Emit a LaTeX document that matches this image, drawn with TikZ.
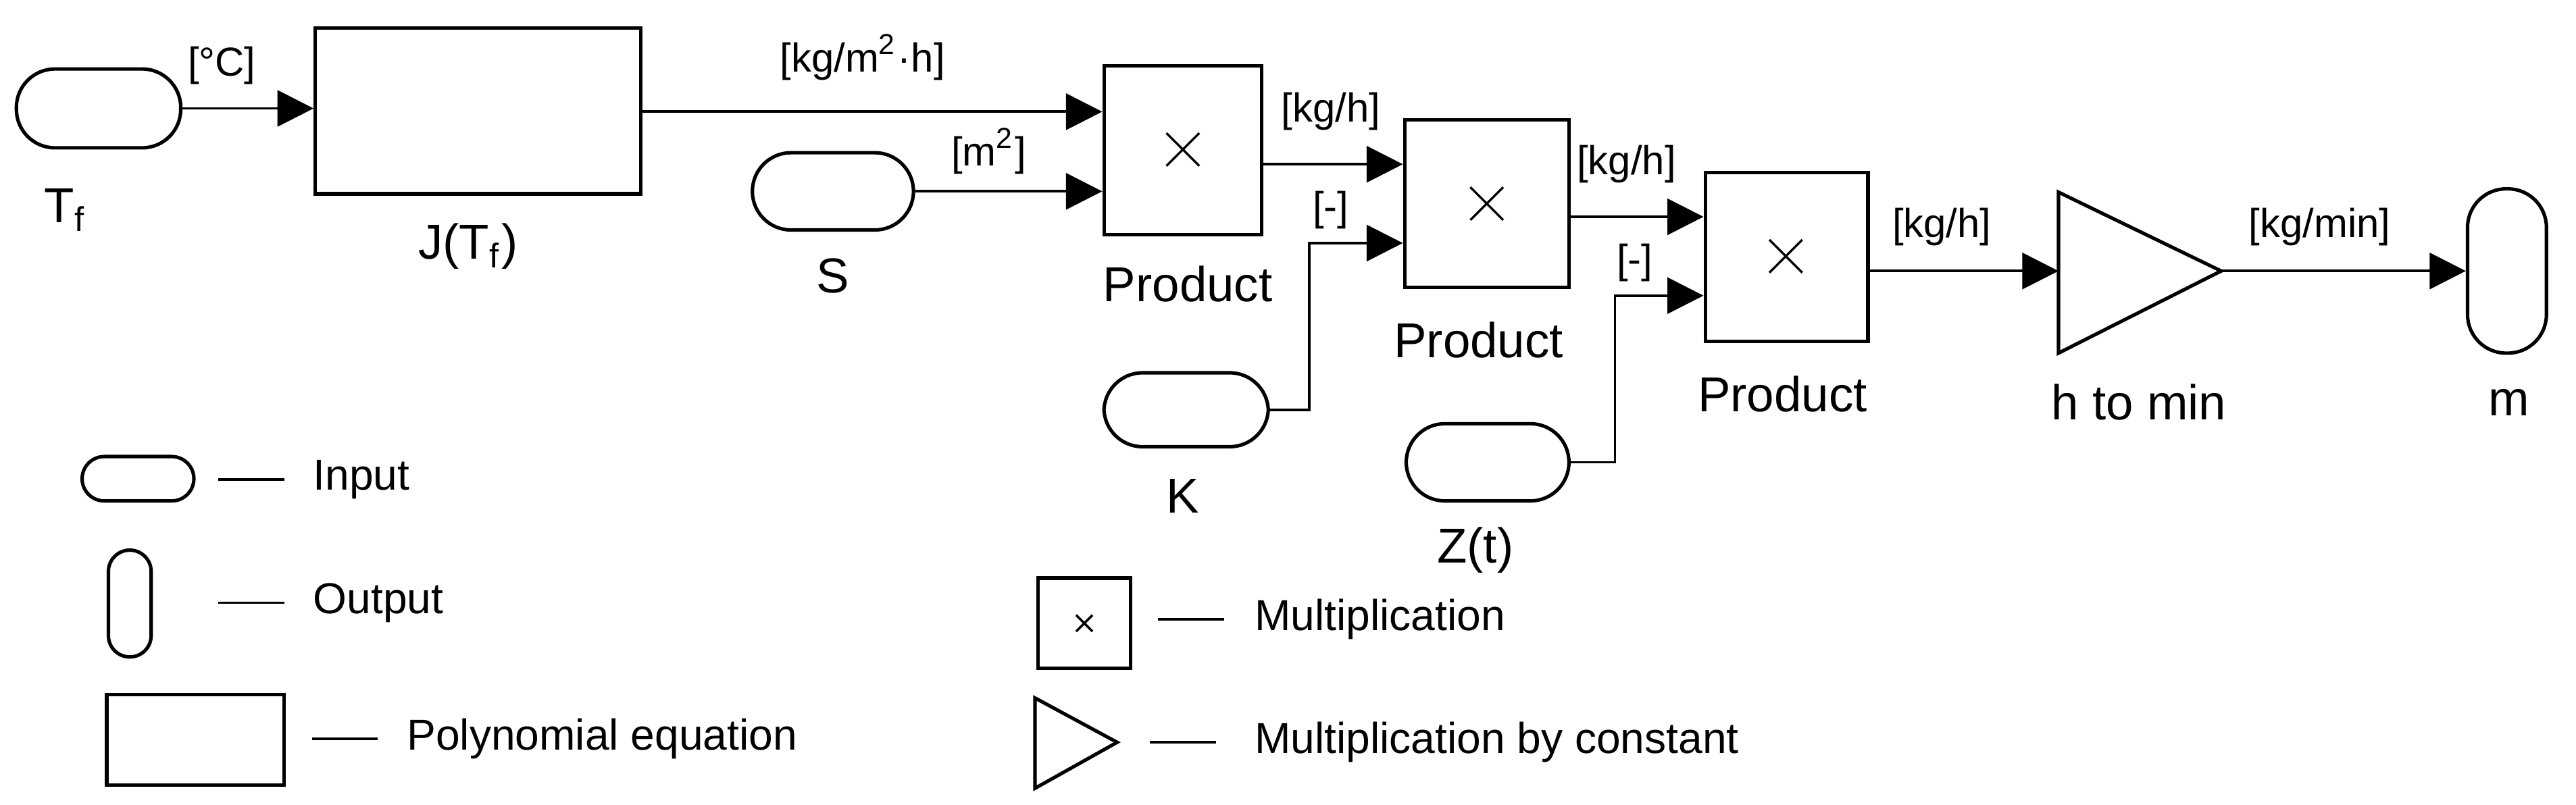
\documentclass[tikz,border=0pt]{standalone}
\usepackage{fontspec}
\setmainfont{Liberation Sans}
\usetikzlibrary{arrows.meta}
\begin{document}
\begin{tikzpicture}[x=0.01cm,y=-0.01cm,
  blk/.style={draw,line width=0.6pt,inner sep=0pt},
  pill/.style={blk,rounded corners=0.235cm},
  ln/.style={line width=0.45pt},
  arr/.style={ln,-{Triangle[length=0.22cm,width=0.22cm]}},
  lab/.style={font=\fontsize{8.5}{10}\selectfont,inner sep=0pt},
  unit/.style={font=\fontsize{7}{8}\selectfont,inner sep=0pt},
  leg/.style={font=\fontsize{7.5}{9}\selectfont,inner sep=0pt,anchor=west}]
\useasboundingbox (0,0) rectangle (1568,490);
% blocks
\node[pill,minimum width=1.0cm,minimum height=0.48cm] (tf) at (60,66) {};
\node[blk,minimum width=1.98cm,minimum height=1.01cm] (j) at (291,67.5) {};
\node[pill,minimum width=0.98cm,minimum height=0.47cm] (s) at (507,116.5) {};
\node[blk,minimum width=0.96cm,minimum height=1.03cm] (p1) at (720,91.5) {};
\node[blk,minimum width=1.0cm,minimum height=1.02cm] (p2) at (905,124) {};
\node[pill,minimum width=1.0cm,minimum height=0.45cm] (k) at (722,249.5) {};
\node[blk,minimum width=0.99cm,minimum height=1.03cm] (p3) at (1087.5,156.5) {};
\node[pill,minimum width=0.99cm,minimum height=0.47cm] (z) at (905.5,281.5) {};
\node[pill,minimum width=0.48cm,minimum height=1.0cm] (m) at (1526,165) {};
\coordinate (tin) at (1253,165);
\coordinate (tout) at (1352,165);
\draw[line width=0.6pt] (1253,117) -- (tout) -- (1253,215) -- cycle;
\draw[line width=0.4pt] (710,81)--(730,101) (710,101)--(730,81);
\draw[line width=0.4pt] (895,114)--(915,134) (895,134)--(915,114);
\draw[line width=0.4pt] (1077,146)--(1097,166) (1077,166)--(1097,146);
% labels
\node[lab] at (40,128) {T\textsubscript{f}};
\node[lab] at (285,150) {J(T\textsubscript{f})};
\node[lab] at (507,168) {S};
\node[lab] at (723,173) {Product};
\node[lab] at (900,207) {Product};
\node[lab] at (1085,240) {Product};
\node[lab] at (720,302) {K};
\node[lab] at (898,335) {Z(t)};
\node[lab] at (1302,245) {h to min};
\node[lab] at (1527,245) {m};
% connectors
\draw[arr] (tf.east) -- (j.west|-tf.east);
\node[unit] at (135,40) {[°C]};
\draw[arr] (j.east|-0,68) -- (p1.west|-0,68);
\node[unit] at (525,35) {[kg/m\textsuperscript{2}·h]};
\draw[arr] (s.east) -- (p1.west|-s.east);
\node[unit] at (602,92) {[m\textsuperscript{2}]};
\draw[arr] (p1.east|-0,100) -- (p2.west|-0,100);
\node[unit] at (810,68) {[kg/h]};
\draw[arr] (k.east) -| (797,148) -- (p2.west|-0,148);
\node[unit] at (810,128) {[-]};
\draw[arr] (p2.east|-0,132) -- (p3.west|-0,132);
\node[unit] at (990,100) {[kg/h]};
\draw[arr] (z.east) -| (983,180) -- (p3.west|-0,180);
\node[unit] at (995,160) {[-]};
\draw[arr] (p3.east|-tin) -- (tin);
\node[unit] at (1182,138) {[kg/h]};
\draw[arr] (tout) -- (m.west);
\node[unit] at (1412,138) {[kg/min]};
% legend
\node[pill,rounded corners=0.135cm,minimum width=0.68cm,minimum height=0.27cm] (li) at (84,291.5) {};
\draw[ln] (133,292) -- (173,292); \node[leg] at (190,292) {Input};
\node[pill,rounded corners=0.13cm,minimum width=0.26cm,minimum height=0.65cm] (lo) at (79,367.5) {};
\draw[ln] (133,367) -- (173,367); \node[leg] at (190,367) {Output};
\node[blk,minimum width=1.08cm,minimum height=0.55cm] (lr) at (119,450.5) {};
\draw[ln] (190,450) -- (230,450); \node[leg] at (247,450) {Polynomial equation};
\node[blk,minimum width=0.56cm,minimum height=0.55cm] (lm) at (660,379.5) {};
\draw[line width=0.4pt] (655,374.5)--(665,384.5) (655,384.5)--(665,374.5);
\draw[ln] (705,377) -- (745,377); \node[leg] at (763,377) {Multiplication};
\draw[line width=0.6pt] (630,425) -- (680,452) -- (630,480) -- cycle;
\draw[ln] (700,452) -- (740,452); \node[leg] at (763,452) {Multiplication by constant};
\end{tikzpicture}
\end{document}
